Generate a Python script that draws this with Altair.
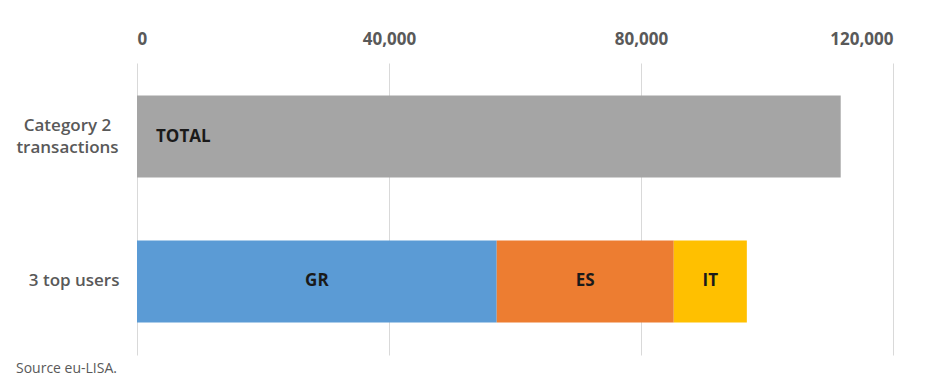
import altair as alt
import pandas as pd

categories = ["Category 2|transactions", "3 top users", "3 top users", "3 top users"]
segments = ["TOTAL", "GR", "ES", "IT"]
values = [111700, 57100, 28100, 11600]
orders = [0, 0, 1, 2]

seg_names = ["TOTAL", "GR", "ES", "IT"]
seg_colors = ["#a5a5a5", "#5b9bd5", "#ed7d31", "#ffc000"]
cat_order = ["Category 2|transactions", "3 top users"]
tick_values = [0, 40000, 80000, 120000]

df = pd.DataFrame({"cat": categories, "seg": segments, "value": values, "ord": orders})

FONT = "Open Sans"
GRAY = "#595959"

base = alt.Chart(df).transform_stack(
    stack="value", groupby=["cat"], as_=["v0", "v1"], sort=[alt.SortField("ord", "ascending")]
).transform_calculate(mid="(datum.v0 + datum.v1) / 2")

multi = "indexof(datum.value, '|') >= 0"

y_enc = alt.Y(
    "cat:N",
    sort=cat_order,
    title=None,
    scale=alt.Scale(paddingInner=0.434, paddingOuter=0.224),
    axis=alt.Axis(
        labelExpr="split(datum.label, '|')",
        labelFont=FONT,
        labelFontSize=17,
        labelFontWeight=600,
        labelColor=GRAY,
        labelAlign={"condition": {"test": multi, "value": "center"}, "value": "right"},
        labelPadding={"condition": {"test": multi, "value": 70}, "value": 18},
        labelLineHeight=22,
        labelOffset={"condition": {"test": multi, "value": -11}, "value": 0},
        ticks=False,
        domain=False,
        grid=False,
    ),
)

bars = base.mark_bar().encode(
    x=alt.X(
        "v0:Q",
        scale=alt.Scale(domain=[0, 120000], nice=False),
        title=None,
        axis=alt.Axis(
            orient="top",
            values=tick_values,
            format=",d",
            labelFont=FONT,
            labelFontSize=17,
            labelFontWeight="bold",
            labelColor=GRAY,
            labelPadding=15,
            ticks=False,
            domain=False,
            grid=True,
            gridColor="#d9d9d9",
            gridWidth=1,
        ),
    ),
    x2="v1:Q",
    y=y_enc,
    color=alt.Color("seg:N", scale=alt.Scale(domain=seg_names, range=seg_colors), legend=None),
)

labels_mid = base.transform_filter("datum.seg != 'TOTAL'").mark_text(
    font=FONT, fontSize=17, fontWeight="bold", color="#1a1a1a", align="center", baseline="middle"
).encode(
    x="mid:Q",
    y=alt.Y("cat:N", sort=cat_order),
    text="seg:N",
)

labels_total = base.transform_filter("datum.seg == 'TOTAL'").mark_text(
    font=FONT, fontSize=17, fontWeight="bold", color="#1a1a1a", align="left", baseline="middle", dx=19
).encode(
    x="v0:Q",
    y=alt.Y("cat:N", sort=cat_order),
    text="seg:N",
)

chart = alt.layer(bars, labels_total, labels_mid).properties(
    width=756,
    height=292,
    background="white",
    autosize=alt.AutoSizeParams(type="none"),
    padding={"left": 137, "top": 63, "right": 32, "bottom": 21},
    title=alt.TitleParams(
        "Source eu-LISA.",
        orient="bottom",
        anchor="start",
        frame="group",
        font=FONT,
        fontSize=14,
        fontWeight="normal",
        color=GRAY,
        dx=-121,
        offset=7,
    ),
).configure_view(strokeWidth=0, stroke="transparent")

chart.save("out.html", embed_options={"renderer": "svg", "actions": False})
